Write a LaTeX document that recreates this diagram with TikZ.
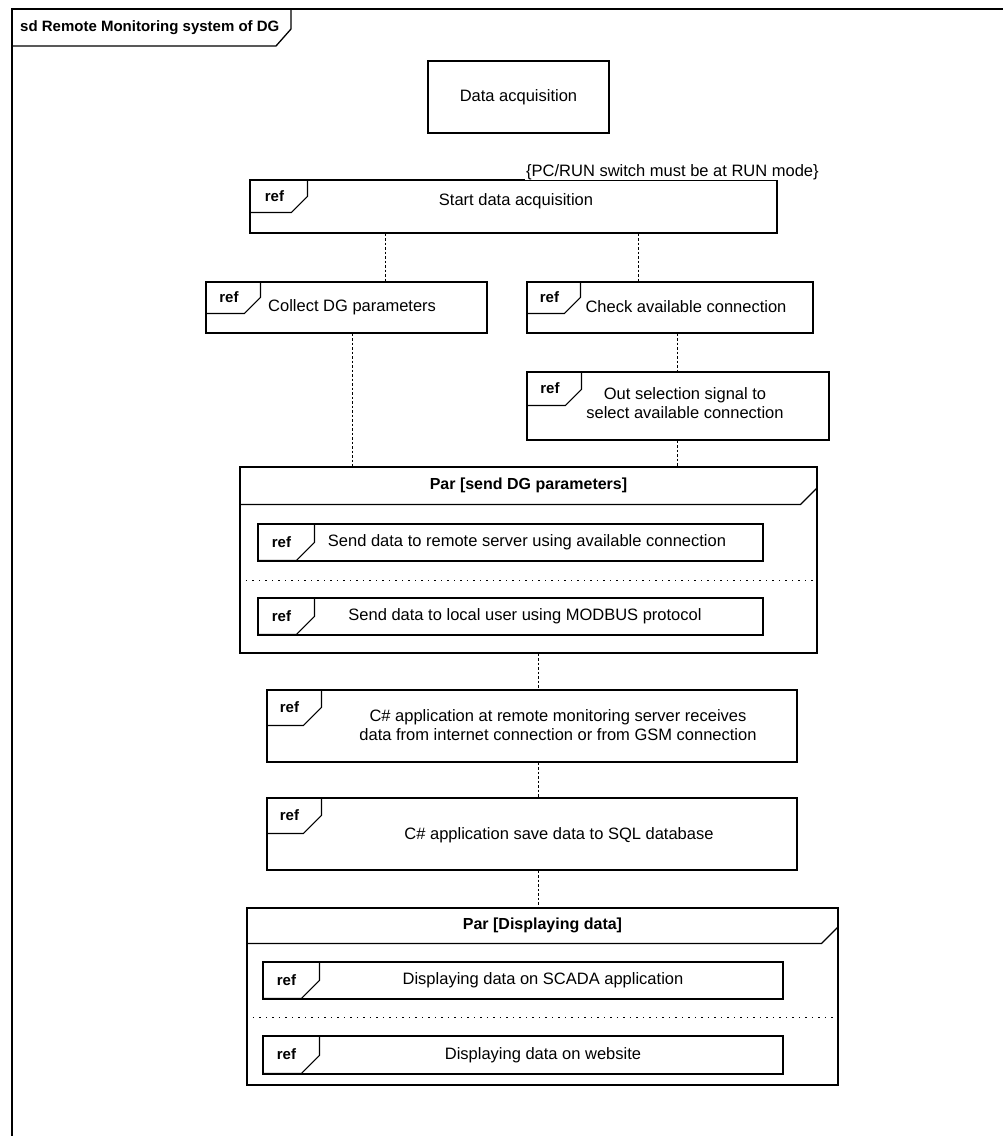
\documentclass[tikz,border=0pt]{standalone}
\usepackage{fontspec}
\setmainfont{Liberation Sans}
\usetikzlibrary{calc}
\tikzset{
  every node/.style={font=\fontsize{16.5pt}{19.5pt}\selectfont},
  box/.style={draw, line width=1.1pt, inner sep=0pt},
  txt/.style={inner sep=0pt, align=center},
  boldtxt/.style={inner sep=0pt, font=\bfseries\fontsize{16pt}{19pt}\selectfont},
  tagtxt/.style={inner sep=0pt, font=\bfseries\fontsize{15pt}{18pt}\selectfont},
  life/.style={line width=1pt, dash pattern=on 2.5pt off 2pt},
  sepline/.style={line width=0.9pt, dash pattern=on 1.5pt off 5pt},
  tagline/.style={line width=1.1pt},
  frameline/.style={line width=2.2pt},
}
\newcommand\reftag[4]{%
  \draw[tagline] ($(#1.north west)+(#2,0)$) -- ++(0,{#3-#4}) -- ++({-#4},#4) -- ($(#1.north west)+(0,#3)$);
  \node[tagtxt] (#1-ref) at ($(#1.north west)+({#2/2-#4/4},{#3/2})$) {ref};
}
\newcommand\parhead[3]{%
  \draw[tagline] ($(#1.north west)+(0,#2)$) -- ($(#1.north east)+(-17,#2)$) -- ($(#1.north east)+(0,{#2-17})$);
  \node[boldtxt] (#1-t) at ($(#1.north)+(0,{#2/2})$) {#3};
}
\begin{document}
\begin{tikzpicture}[x=1pt,y=-1pt]
\useasboundingbox (0,0) rectangle (1003,1136);

% outer frame
\draw[frameline] (12,1136) -- (12,9) -- (1003,9);
\draw[line width=1.3pt] (12,46) -- (276,46) -- (291,29) -- (291,9);
\node[boldtxt, font=\bfseries\fontsize{15pt}{18pt}\selectfont, anchor=west] (title) at (20,28) {sd Remote Monitoring system of DG};

% Data acquisition
\node[box, minimum width=181pt, minimum height=72pt] (da) at (518.5,97) {};
\node[txt] (da-t) at (da.center) {Data acquisition};

% Start data acquisition
\node[box, minimum width=527pt, minimum height=53pt] (start) at (513.5,206.5) {};
\reftag{start}{58}{33}{16}
\node[txt] (start-t) at (516,201) {Start data acquisition};
\node[anchor=base west, fill=white, inner sep=1pt] (note) at (525,176) {\{PC/RUN switch must be at RUN mode\}};

% Collect / Check
\node[box, minimum width=281pt, minimum height=51pt] (collect) at (346.5,307.5) {};
\reftag{collect}{55}{32}{16}
\node[txt, anchor=west] (collect-t) at (268,307) {Collect DG parameters};

\node[box, minimum width=286pt, minimum height=51pt] (check) at (670,307.5) {};
\reftag{check}{54}{32}{16}
\node[txt] (check-t) at (686,307) {Check available connection};

% Out selection
\node[box, minimum width=302pt, minimum height=68pt] (outsel) at (678,406) {};
\reftag{outsel}{55}{34}{16}
\node[txt] (outsel-t) at (685,403) {Out selection signal to\\select available connection};

% Par 1
\node[box, minimum width=577pt, minimum height=186pt] (par1) at (528.5,560) {};
\parhead{par1}{38}{Par [send DG parameters]}
\node[box, minimum width=505pt, minimum height=37pt] (s1) at (510.5,542.5) {};
\reftag{s1}{57}{37}{18}
\node[txt] (s1-t) at (527,542) {Send data to remote server using available connection};
\coordinate (sep1) at (0,580);
\draw[sepline] (par1.west |- sep1) -- (par1.east |- sep1);
\node[box, minimum width=505pt, minimum height=37pt] (s2) at (510.5,616.5) {};
\reftag{s2}{57}{37}{18}
\node[txt] (s2-t) at (525,616) {Send data to local user using MODBUS protocol};

% C# boxes
\node[box, minimum width=530pt, minimum height=72pt] (c1) at (532,726) {};
\reftag{c1}{55}{36}{18}
\node[txt] (c1-t) at (558,725) {C\# application at remote monitoring server receives\\data from internet connection or from GSM connection};

\node[box, minimum width=530pt, minimum height=72pt] (c2) at (532,834) {};
\reftag{c2}{55}{36}{18}
\node[txt] (c2-t) at (559,835) {C\# application save data to SQL database};

% Par 2
\node[box, minimum width=591pt, minimum height=177pt] (par2) at (542.5,996.5) {};
\parhead{par2}{36}{Par [Displaying data]}
\node[box, minimum width=520pt, minimum height=37pt] (d1) at (523,980.5) {};
\reftag{d1}{57}{37}{18}
\node[txt] (d1-t) at (543,980) {Displaying data on SCADA application};
\coordinate (sep2) at (0,1017);
\draw[sepline] (par2.west |- sep2) -- (par2.east |- sep2);
\node[box, minimum width=520pt, minimum height=38pt] (d2) at (523,1055) {};
\reftag{d2}{57}{38}{18}
\node[txt] (d2-t) at (543,1055) {Displaying data on website};

% lifelines
\coordinate (l1a) at (385,0);
\coordinate (l1b) at (352,0);
\coordinate (l2) at (638,0);
\coordinate (l3) at (677,0);
\coordinate (l4) at (538,0);
\draw[life] (start.south -| l1a) -- (collect.north -| l1a);
\draw[life] (start.south -| l2) -- (check.north -| l2);
\draw[life] (collect.south -| l1b) -- (par1.north -| l1b);
\draw[life] (check.south -| l3) -- (outsel.north -| l3);
\draw[life] (outsel.south -| l3) -- (par1.north -| l3);
\draw[life] (par1.south -| l4) -- (c1.north -| l4);
\draw[life] (c1.south -| l4) -- (c2.north -| l4);
\draw[life] (c2.south -| l4) -- (par2.north -| l4);
\end{tikzpicture}
\end{document}
